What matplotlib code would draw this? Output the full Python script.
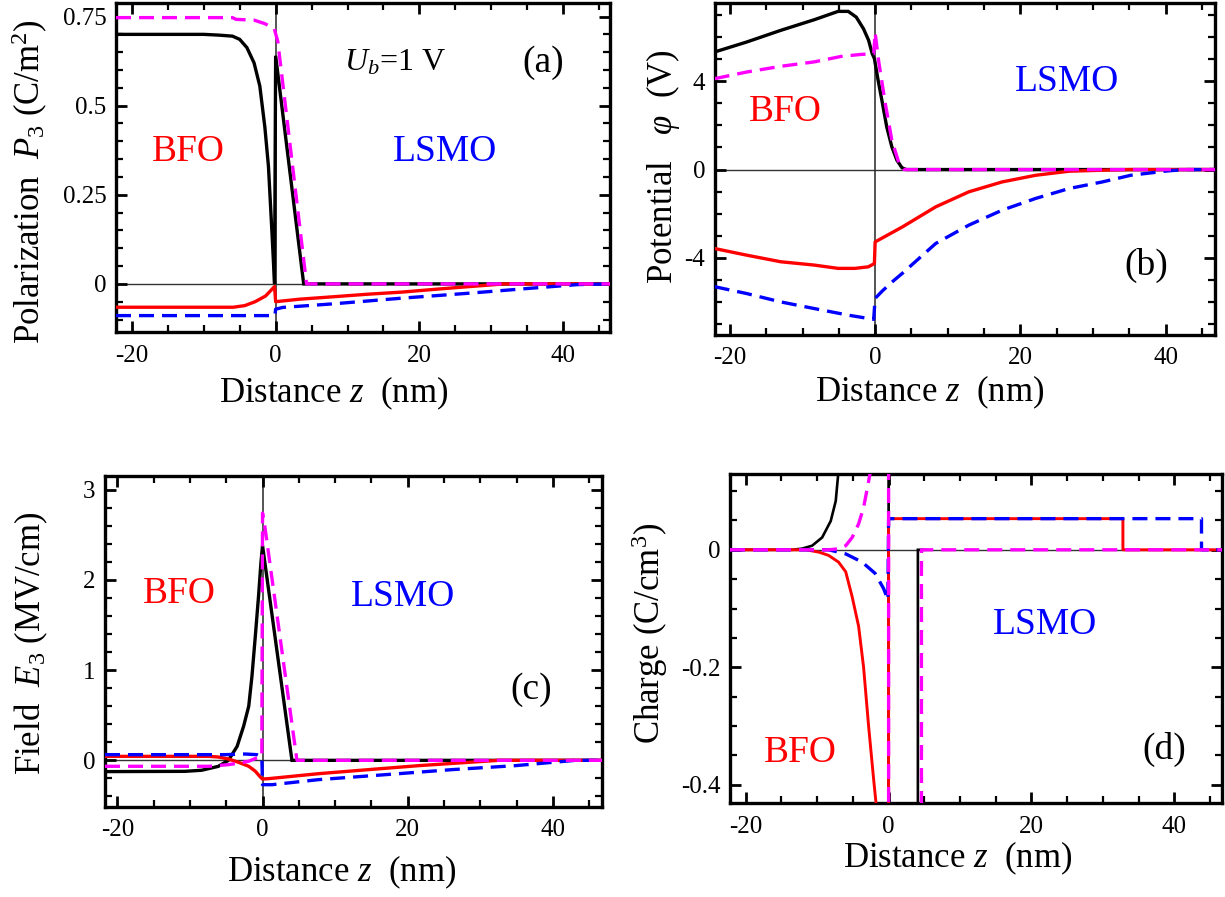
import matplotlib
matplotlib.use("Agg")
import matplotlib.pyplot as plt
from matplotlib.ticker import MultipleLocator

plt.rcParams['font.family'] = ['Liberation Serif', 'DejaVu Serif']
plt.rcParams['mathtext.fontset'] = 'custom'
plt.rcParams['mathtext.rm'] = 'Liberation Serif'
plt.rcParams['mathtext.it'] = 'Liberation Serif:italic'
plt.rcParams['mathtext.bf'] = 'Liberation Serif:bold'
plt.rcParams['axes.unicode_minus'] = False

# ---------------- data ----------------
# (a) polarization P3 (C/m^2)
za_black = [-22.2, -10, -8, -6, -5, -4, -3, -2.2, -1.5, -1.0, -0.5, -0.15, 0.0, 3.9, 46.7]
pa_black = [0.70, 0.70, 0.698, 0.695, 0.686, 0.663, 0.62, 0.555, 0.44, 0.33, 0.14, 0.0, 0.64, 0.0, 0.0]
za_mag = [-22.2, -6, -5.5, -3, -1.5, -0.2, 0.3, 4.3, 46.7]
pa_mag = [0.747, 0.747, 0.742, 0.74, 0.73, 0.717, 0.68, 0.0, 0.0]
za_red = [-22.2, -5.9, -4.3, -2.85, -1.4, -0.15, 0.0, 3.3, 8.1, 12.8, 17.6, 22.3, 27, 31.8, 46.7]
pa_red = [-0.0655, -0.0655, -0.061, -0.05, -0.034, -0.0075, -0.05, -0.043, -0.036, -0.029,
          -0.023, -0.015, -0.0075, 0.0, 0.0]
za_blue = [-22.2, -0.1, 0.0, 1, 8, 17.6, 27, 35, 42, 46.7]
pa_blue = [-0.089, -0.089, -0.071, -0.066, -0.056, -0.040, -0.026, -0.013, -0.002, 0.0]

# (b) potential phi (V)
zb_black = [-22.1, -17.7, -13, -8.4, -5.1, -3.7, -2.6, -1.6, -0.9, -0.4, -0.1, 0.37, 0.93, 1.6,
            2.3, 3.0, 3.7, 4.3, 46.8]
pb_black = [5.33, 5.78, 6.31, 6.79, 7.17, 7.17, 6.91, 6.38, 5.86, 5.25, 5.03, 4.12, 3.14, 1.93,
            1.03, 0.42, 0.08, 0.0, 0.0]
zb_mag = [-22.1, -17.7, -13, -8.4, -4.65, -1.9, -0.2, 0.0, 0.47, 1.4, 2.3, 3.3, 4.0, 46.8]
pb_mag = [4.12, 4.42, 4.68, 4.88, 5.13, 5.22, 5.25, 6.2, 4.95, 2.99, 1.33, 0.27, 0.0, 0.0]
zb_red = [-22.1, -17.7, -13, -8.4, -5.1, -2.8, -0.93, -0.1, 0.0, 3.76, 8.35, 12.9, 17.5, 22.1,
          26.7, 31.3, 35, 46.8]
pb_red = [-3.58, -3.88, -4.18, -4.33, -4.48, -4.48, -4.41, -4.26, -3.28, -2.6, -1.69, -1.01,
          -0.56, -0.26, -0.075, -0.03, 0.0, 0.0]
zb_blue = [-22.1, -17.7, -13, -8.4, -3.7, -0.2, 0.0, 1.0, 2.5, 3.76, 8.35, 12.9, 17.5, 22.1,
           26.7, 31.3, 35.2, 40, 42.6, 46.8]
pb_blue = [-5.31, -5.62, -6.0, -6.3, -6.6, -6.79, -5.84, -5.5, -5.05, -4.7, -3.35, -2.52, -1.84,
           -1.31, -0.86, -0.56, -0.26, -0.07, 0.0, 0.0]

# (c) field E3 (MV/cm)
zc_black = [-21.7, -10.7, -8.4, -6.1, -4.7, -3.5, -2.6, -1.9, -1.46, -1.0, -0.55, -0.22, 0.0,
            4.05, 46.8]
ec_black = [-0.125, -0.122, -0.11, -0.067, 0.0, 0.155, 0.38, 0.6, 0.93, 1.37, 1.82, 2.19, 2.38,
            0.0, 0.0]
zc_mag = [-21.7, -7.4, -4.7, -3.3, -1.9, -0.8, -0.1, 0.0, 0.3, 4.74, 46.8]
ec_mag = [-0.066, -0.066, -0.048, -0.03, -0.01, 0.026, 0.044, 2.74, 2.6, 0.0, 0.0]
zc_red = [-21.7, -7.4, -6.1, -4.7, -3.3, -1.9, -1.0, -0.3, 0.0, 0.83, 7.7, 14.6, 21.5, 28.4,
          32.5, 46.8]
ec_red = [0.044, 0.044, 0.037, 0.015, -0.022, -0.066, -0.12, -0.185, -0.207, -0.203, -0.148,
          -0.103, -0.059, -0.022, 0.0, 0.0]
zc_blue = [-21.7, -5.1, -2.4, -0.8, -0.1, 0.0, 1.3, 7.7, 16.9, 26.1, 34.8, 43.1, 46.8]
ec_blue = [0.063, 0.063, 0.07, 0.063, 0.037, -0.27, -0.27, -0.214, -0.159, -0.103, -0.059, 0.0,
           0.0]

# (d) charge density (C/cm^3)
zd_black = [-22.2, -13.5, -12.1, -10.7, -9.3, -8.1, -7.4, -7.06, -6.5, 0.0, 0.0, 4.1, 4.1, 5.0]
rd_black = [0, 0, 0.002, 0.007, 0.021, 0.049, 0.083, 0.128, 0.2, 0.5, -1.0, -1.0, 0.0, 0.0]
zd_red = [-22.2, -11.6, -9.75, -8.4, -7.0, -6.0, -5.1, -4.2, -3.5, -2.8, -2.1, -1.77, -1.5, 0.0,
          0.0, 32.8, 32.8, 46.7]
rd_red = [0, 0, -0.004, -0.0095, -0.021, -0.0375, -0.08, -0.13, -0.2, -0.30, -0.39, -0.43, -0.6,
          -1.0, 0.053, 0.053, 0.0, 0.0]
zd_blue = [-22.2, -8.4, -6.0, -3.7, -1.9, -0.7, -0.1, 0.0, 43.8, 43.8, 46.7]
rd_blue = [0, 0, -0.007, -0.021, -0.04, -0.066, -0.085, 0.053, 0.053, 0.0, 0.0]
zd_mag = [-22.2, -8.4, -7.0, -6.0, -5.1, -4.2, -3.5, -2.9, -2.55, -2.0, 0.0, 0.0, 4.6, 4.6, 46.7]
rd_mag = [0, 0, 0.0017, 0.007, 0.021, 0.044, 0.072, 0.11, 0.133, 0.3, 0.5, -1.0, -1.0, 0.0, 0.0]

# ticks / labels
x_ticks = [-20, 0, 20, 40]
x_ticklabels = ['-20', '0', '20', '40']
a_yticks = [0, 0.25, 0.5, 0.75]
a_yticklabels = ['0', '0.25', '0.5', '0.75']
b_yticks = [-4, 0, 4]
b_yticklabels = ['-4', '0', '4']
c_yticks = [0, 1, 2, 3]
c_yticklabels = ['0', '1', '2', '3']
d_yticks = [-0.4, -0.2, 0]
d_yticklabels = ['-0.4', '-0.2', '0']

# ---------------- figure ----------------
fig = plt.figure(figsize=(12.25, 8.97), dpi=100)
W, H = 1225.0, 897.0


def make_ax(l, t, r, b):
    return fig.add_axes([l / W, 1 - b / H, (r - l) / W, (b - t) / H])


axa = make_ax(116, 3, 610, 332)
axb = make_ax(715, 3, 1215, 335)
axc = make_ax(105, 476, 602, 807)
axd = make_ax(730, 474, 1222, 803)

LW = 2.4
DASH = (4.5, 2.4)


def draw(ax, zk, yk, zr, yr, zb, yb, zm, ym, lw_k=LW, lw_r=LW):
    ax.axhline(0, color='0.2', lw=1.0, zorder=1)
    ax.axvline(0, color='0.15', lw=1.1, zorder=1)
    ax.plot(zk, yk, color='black', lw=lw_k, zorder=2, solid_joinstyle='miter')
    ax.plot(zr, yr, color='#ff0000', lw=lw_r, zorder=3)
    ax.plot(zb, yb, color='#0000ff', lw=LW, ls=(0, DASH), zorder=4)
    ax.plot(zm, ym, color='#ff00ff', lw=LW, ls=(0, DASH), zorder=5)


def style(ax, xlim, ylim, yt, ytl, ymin, ylabel, lab_xy, xlab_xy):
    ax.set_xlim(*xlim)
    ax.set_ylim(*ylim)
    ax.set_xticks(x_ticks)
    ax.set_xticklabels(x_ticklabels)
    ax.set_yticks(yt)
    ax.set_yticklabels(ytl)
    ax.xaxis.set_minor_locator(MultipleLocator(5))
    ax.yaxis.set_minor_locator(MultipleLocator(ymin))
    ax.tick_params(which='both', direction='in', top=True, right=True, labelsize=18)
    ax.tick_params(which='major', length=8, width=2.0)
    ax.tick_params(which='minor', length=5, width=1.6)
    ax.tick_params(axis='x', which='major', pad=9)
    ax.tick_params(axis='y', which='major', pad=7)
    for s in ax.spines.values():
        s.set_linewidth(2.4)
    ax.set_ylabel(ylabel, fontsize=25)
    ax.yaxis.set_label_coords(*lab_xy)
    ax.yaxis.label.set_verticalalignment('center')
    ax.set_xlabel(r'Distance $z$  (nm)', fontsize=25)
    ax.xaxis.set_label_coords(*xlab_xy)
    ax.xaxis.label.set_verticalalignment('center')


# (a)
draw(axa, za_black, pa_black, za_red, pa_red, za_blue, pa_blue, za_mag, pa_mag)
style(axa, (-22.2, 46.5), (-0.135, 0.788), a_yticks, a_yticklabels, 0.05,
      r'Polarization  $P_3$ (C/m$^2$)', (-0.174, 0.456), (0.441, -0.185))
axa.text(16.6, 0.62, r'$U_b$=1 V', fontsize=23, ha='center', va='center')
axa.text(37.2, 0.62, '(a)', fontsize=27, ha='center', va='center')
axa.text(-12.2, 0.37, 'BFO', fontsize=27, color='#ff0000', ha='center', va='center')
axa.text(23.5, 0.37, 'LSMO', fontsize=27, color='#0000ff', ha='center', va='center')

# (b)
draw(axb, zb_black, pb_black, zb_red, pb_red, zb_blue, pb_blue, zb_mag, pb_mag)
style(axb, (-22.05, 46.8), (-7.5, 7.55), b_yticks, b_yticklabels, 1,
      r'Potential   $\varphi$  (V)', (-0.104, 0.506), (0.43, -0.172))
axb.text(-12.3, 2.61, 'BFO', fontsize=27, color='#ff0000', ha='center', va='center')
axb.text(26.4, 3.97, 'LSMO', fontsize=27, color='#0000ff', ha='center', va='center')
axb.text(37.3, -4.33, '(b)', fontsize=27, ha='center', va='center')

# (c)
draw(axc, zc_black, ec_black, zc_red, ec_red, zc_blue, ec_blue, zc_mag, ec_mag)
style(axc, (-21.7, 46.76), (-0.517, 3.15), c_yticks, c_yticklabels, 0.2,
      r'Field  $E_3$ (MV/cm)', (-0.149, 0.495), (0.476, -0.196))
axc.text(-11.4, 1.85, 'BFO', fontsize=27, color='#ff0000', ha='center', va='center')
axc.text(19.4, 1.81, 'LSMO', fontsize=27, color='#0000ff', ha='center', va='center')
axc.text(37.0, 0.78, '(c)', fontsize=27, ha='center', va='center')

# (d)
draw(axd, zd_black, rd_black, zd_red, rd_red, zd_blue, rd_blue, zd_mag, rd_mag,
     lw_k=1.9, lw_r=2.1)
style(axd, (-22.2, 46.67), (-0.431, 0.129), d_yticks, d_yticklabels, 0.05,
      r'Charge (C/cm$^3$)', (-0.163, 0.514), (0.463, -0.167))
axd.text(-12.4, -0.346, 'BFO', fontsize=27, color='#ff0000', ha='center', va='center')
axd.text(21.9, -0.128, 'LSMO', fontsize=27, color='#0000ff', ha='center', va='center')
axd.text(38.6, -0.34, '(d)', fontsize=27, ha='center', va='center')

fig.savefig('out.png', dpi=100)
